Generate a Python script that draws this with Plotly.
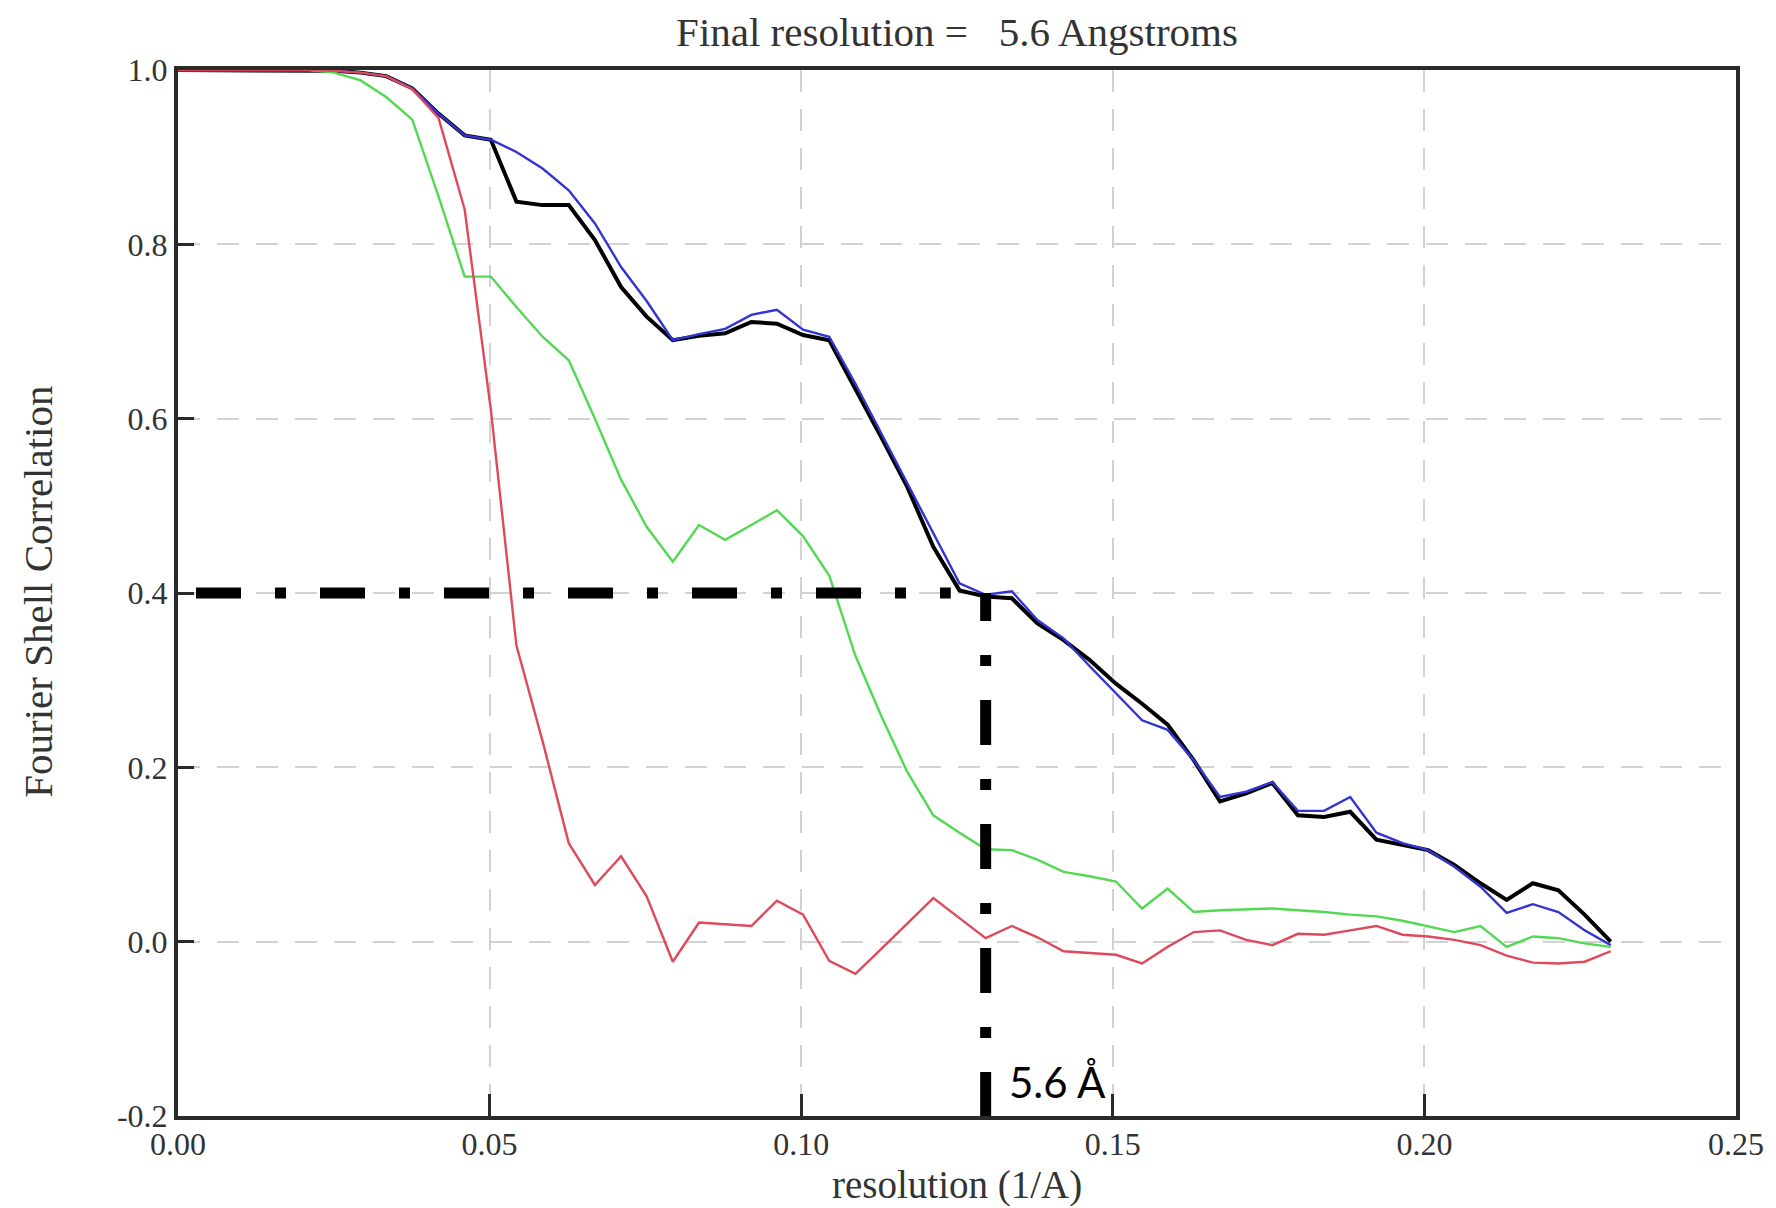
import plotly.graph_objects as go

# ---- data ----
resolution = [0.0000, 0.0042, 0.0084, 0.0125, 0.0167, 0.0209, 0.0251, 0.0293, 0.0334, 0.0376,
              0.0418, 0.0460, 0.0502, 0.0543, 0.0585, 0.0627, 0.0669, 0.0711, 0.0752, 0.0794,
              0.0836, 0.0878, 0.0920, 0.0961, 0.1003, 0.1045, 0.1087, 0.1129, 0.1170, 0.1212,
              0.1254, 0.1296, 0.1338, 0.1379, 0.1421, 0.1463, 0.1505, 0.1547, 0.1588, 0.1630,
              0.1672, 0.1714, 0.1756, 0.1797, 0.1839, 0.1881, 0.1923, 0.1965, 0.2006, 0.2048,
              0.2090, 0.2132, 0.2174, 0.2215, 0.2257, 0.2299]

fsc_black = [1.000, 1.000, 1.000, 1.000, 1.000, 1.000, 0.999, 0.997, 0.993, 0.979,
             0.950, 0.925, 0.920, 0.849, 0.845, 0.845, 0.805, 0.751, 0.717, 0.690,
             0.695, 0.698, 0.711, 0.709, 0.696, 0.690, 0.635, 0.578, 0.522, 0.453,
             0.403, 0.396, 0.394, 0.365, 0.346, 0.323, 0.296, 0.273, 0.249, 0.208,
             0.161, 0.170, 0.182, 0.145, 0.143, 0.149, 0.117, 0.111, 0.105, 0.088,
             0.067, 0.048, 0.067, 0.059, 0.031, 0.000]

fsc_blue = [1.000, 1.000, 1.000, 1.000, 1.000, 1.000, 0.999, 0.997, 0.993, 0.979,
            0.950, 0.925, 0.920, 0.906, 0.887, 0.862, 0.824, 0.774, 0.735, 0.690,
            0.697, 0.703, 0.719, 0.725, 0.702, 0.694, 0.640, 0.582, 0.526, 0.469,
            0.411, 0.398, 0.402, 0.369, 0.348, 0.316, 0.285, 0.254, 0.243, 0.208,
            0.166, 0.172, 0.183, 0.150, 0.150, 0.166, 0.125, 0.113, 0.105, 0.086,
            0.063, 0.033, 0.043, 0.034, 0.013, -0.004]

fsc_green = [1.000, 1.000, 1.000, 1.000, 1.000, 1.000, 0.997, 0.988, 0.969, 0.943,
             0.855, 0.763, 0.763, 0.728, 0.694, 0.667, 0.600, 0.530, 0.476, 0.436,
             0.478, 0.461, 0.478, 0.495, 0.465, 0.420, 0.328, 0.258, 0.195, 0.145,
             0.125, 0.106, 0.105, 0.094, 0.080, 0.075, 0.069, 0.038, 0.061, 0.034,
             0.036, 0.037, 0.038, 0.036, 0.034, 0.031, 0.029, 0.024, 0.018, 0.011,
             0.018, -0.006, 0.006, 0.004, -0.002, -0.006]

fsc_red = [1.000, 1.000, 1.000, 1.000, 1.000, 1.000, 0.999, 0.997, 0.993, 0.978,
           0.945, 0.840, 0.610, 0.340, 0.230, 0.113, 0.065, 0.098, 0.052, -0.023,
           0.022, 0.020, 0.018, 0.047, 0.031, -0.022, -0.037, -0.008, 0.021, 0.050,
           0.027, 0.004, 0.018, 0.005, -0.011, -0.013, -0.015, -0.025, -0.006, 0.011,
           0.013, 0.002, -0.004, 0.009, 0.008, 0.013, 0.018, 0.008, 0.006, 0.002,
           -0.004, -0.016, -0.024, -0.025, -0.023, -0.011]

threshold = 0.4          # FSC criterion
cutoff_x = 0.1296        # where the black curve meets the criterion
hline_x = [0.0, 0.124]   # extent of the horizontal guide
vline_y = [threshold, -0.2]

x_ticks = [0.00, 0.05, 0.10, 0.15, 0.20, 0.25]
x_tick_text = ["0.00", "0.05", "0.10", "0.15", "0.20", "0.25"]
y_ticks = [-0.2, 0.0, 0.2, 0.4, 0.6, 0.8, 1.0]
y_tick_text = ["-0.2", "0.0", "0.2", "0.4", "0.6", "0.8", "1.0"]

title_text = "Final resolution =\u00a0\u00a0\u00a05.6 Angstroms"
x_title = "resolution (1/A)"
y_title = "Fourier Shell Correlation"
res_label = "5.6 Å"

SERIF = "Liberation Serif, Times New Roman, serif"

fig = go.Figure()

for ys, col, w in [(fsc_black, "#000000", 4),
                   (fsc_blue, "#3434d2", 2.4),
                   (fsc_green, "#52d852", 2.4),
                   (fsc_red, "#de4a5c", 2.4)]:
    fig.add_trace(go.Scatter(x=resolution, y=ys, mode="lines",
                             line=dict(color=col, width=w), showlegend=False,
                             hoverinfo="skip"))

h_dash = "0px,18px," + ",".join(["45px,34px,11px,34px"] * 8)
v_dash = "28px,34px,11px,34px," + ",".join(["45px,34px,11px,34px"] * 5)

fig.add_trace(go.Scatter(x=hline_x, y=[threshold, threshold], mode="lines",
                         line=dict(color="#000000", width=11, dash=h_dash),
                         showlegend=False, hoverinfo="skip"))
fig.add_trace(go.Scatter(x=[cutoff_x, cutoff_x], y=vline_y, mode="lines",
                         line=dict(color="#000000", width=11, dash=v_dash),
                         showlegend=False, hoverinfo="skip"))

axis_common = dict(showline=True, linecolor="#2a2a2a", linewidth=4, mirror=True,
                   showgrid=True, gridcolor="#d2d2d2", gridwidth=2, griddash="22px,17px",
                   zeroline=False, ticks="inside", tickcolor="#2a2a2a", tickwidth=3,
                   tickfont=dict(family=SERIF, size=32, color="#333333"))

fig.update_xaxes(range=[0, 0.25], tickvals=x_ticks, ticktext=x_tick_text,
                 ticklen=22, ticklabelstandoff=-3, **axis_common)
fig.update_yaxes(range=[-0.2, 1.0], tickvals=y_ticks, ticktext=y_tick_text,
                 ticklen=16, **axis_common)

fig.update_layout(
    width=1776, height=1208,
    margin=dict(l=178, r=35, t=70, b=92),
    paper_bgcolor="white", plot_bgcolor="white",
    title=dict(text=title_text, x=0.5, xref="paper", xanchor="center",
               y=1 - 32 / 1208, yref="container", yanchor="middle",
               font=dict(family=SERIF, size=41, color="#333333")),
    annotations=[
        dict(text=x_title, xref="paper", yref="paper", x=0.5, y=-0.066,
             xanchor="center", yanchor="middle", showarrow=False,
             font=dict(family=SERIF, size=39, color="#333333")),
        dict(text=y_title, xref="paper", yref="paper", x=-0.090, y=0.501,
             xanchor="center", yanchor="middle", showarrow=False, textangle=-90,
             font=dict(family=SERIF, size=41, color="#333333")),
        dict(text=res_label, xref="x", yref="y", x=0.1331, y=-0.161,
             xanchor="left", yanchor="middle", showarrow=False,
             font=dict(family="Lato, Open Sans, sans-serif", size=42, color="#000000")),
    ],
)

fig.write_html("out.html", config={"displayModeBar": False},
               post_script="document.body.style.margin='0';document.body.style.padding='0';")
